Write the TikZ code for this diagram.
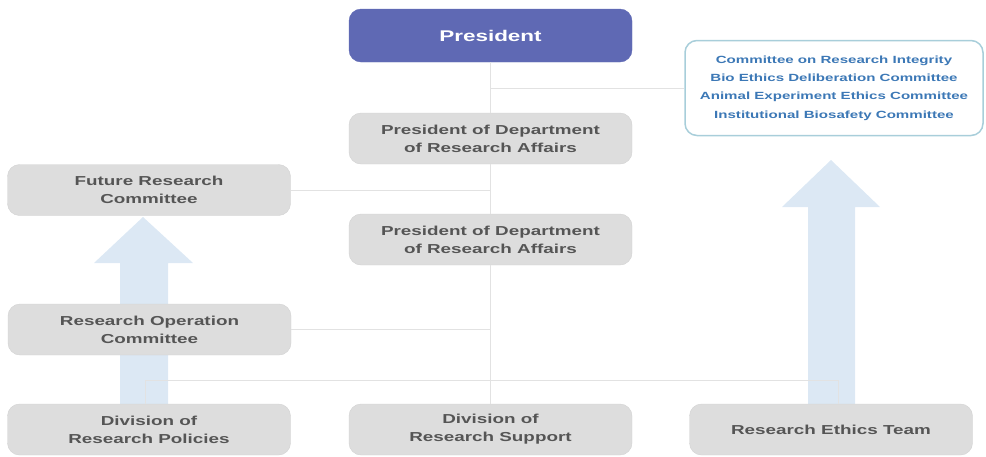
\documentclass[tikz,border=0pt]{standalone}
\usepackage{fontspec}
\setmainfont{Liberation Sans}[FakeStretch=1.45]
\definecolor{presblue}{HTML}{5F69B4}
\definecolor{boxgray}{HTML}{DDDDDD}
\definecolor{boxline}{HTML}{D2D2D2}
\definecolor{boxtext}{HTML}{555555}
\definecolor{linegray}{HTML}{E2E2E2}
\definecolor{arrowblue}{HTML}{DCE8F4}
\definecolor{ethicsline}{HTML}{A8CEDA}
\definecolor{ethicstext}{HTML}{3C78B6}
\tikzset{
    box/.style={draw=boxline, fill=boxgray, rounded corners=12pt,
        minimum width=283pt, minimum height=51pt, align=center,
        text=boxtext, font=\fontsize{13pt}{18pt}\selectfont\bfseries},
    link/.style={draw=linegray, line width=1pt},
    bigarrow/.style={fill=arrowblue}
}
\begin{document}
\begin{tikzpicture}[x=1pt, y=-1pt]
    \useasboundingbox (0,0) rectangle (986,456);
    % Mũi tên lớn
    \fill[bigarrow] (120,410) -- (120,263) -- (94,263) -- (143,217)
        -- (193,263) -- (168,263) -- (168,410) -- cycle;
    \fill[bigarrow] (808,410) -- (808,207) -- (782,207) -- (831,160)
        -- (880,207) -- (855,207) -- (855,410) -- cycle;
    % Các khung
    \node[box, fill=presblue, draw=presblue, text=white, minimum height=53pt,
        font=\fontsize{15.5pt}{18pt}\selectfont\bfseries] (pres) at (490.5,35.5) {President};
    \node[box, fill=white, draw=ethicsline, line width=1.5pt, minimum width=298pt,
        minimum height=95pt, text=ethicstext,
        font=\fontsize{10.4pt}{18.3pt}\selectfont\bfseries] (ethics) at (834,88)
        {Committee on Research Integrity\\ Bio Ethics Deliberation Committee\\
         Animal Experiment Ethics Committee\\ Institutional Biosafety Committee};
    \node[box] (vpone) at (490.5,138.5) {President of Department\\ of Research Affairs};
    \node[box] (future) at (149,190) {Future Research\\ Committee};
    \node[box] (vptwo) at (490.5,239.5) {President of Department\\ of Research Affairs};
    \node[box] (operation) at (149.5,329.5) {Research Operation\\ Committee};
    \node[box] (policies) at (149,429.5) {Division of\\ Research Policies};
    \node[box] (support) at (490.5,429.5) {Division of\\ Research Support};
    \node[box] (team) at (831,429.5) {Research Ethics Team};
    % Đường nối
    \coordinate (busL) at (145,380);
    \coordinate (busR) at (838,380);
    \draw[link] (pres.south) -- (vpone.north);
    \draw[link] (vpone.south) -- (vptwo.north);
    \draw[link] (vptwo.south) -- (support.north);
    \draw[link] (pres.south |- ethics.west) -- (ethics.west);
    \draw[link] (future.east) -- (future.east -| pres.south);
    \draw[link] (operation.east) -- (operation.east -| pres.south);
    \draw[link] (policies.north -| busL) -- (busL) -- (busR) -- (team.north -| busR);
\end{tikzpicture}
\end{document}
